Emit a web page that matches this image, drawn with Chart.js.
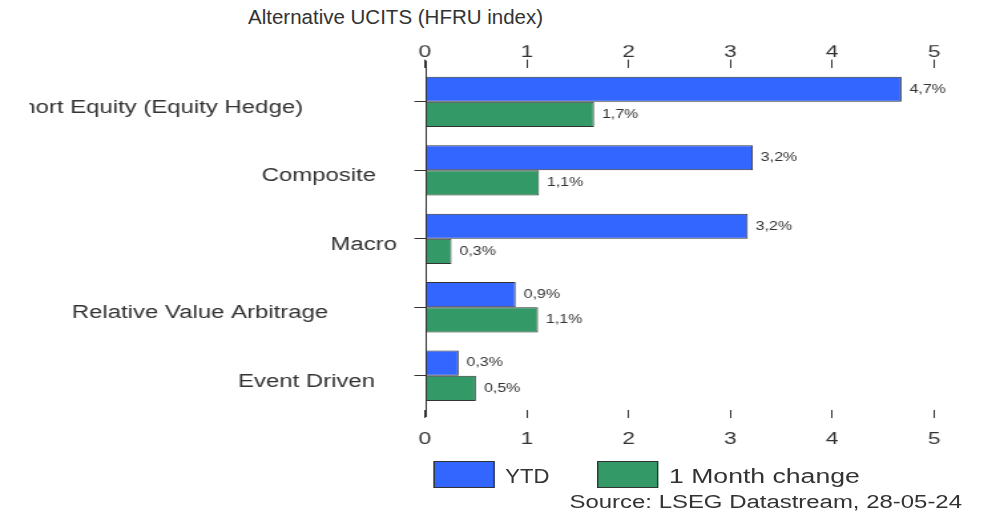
<!DOCTYPE html>
<html>
<head>
<meta charset="utf-8">
<script src="https://cdn.jsdelivr.net/npm/chart.js@4.4.1/dist/chart.umd.min.js"></script>
<style>
  body { margin: 0; background: #fff; font-family: "Liberation Sans", Arial, sans-serif; color: #333; }
  #title { position: absolute; left: 248px; top: 5px; font-size: 20.5px; line-height: 24px; white-space: nowrap; }
  #stretch { position: absolute; left: 0; top: 0; width: 755px; height: 514px; transform: scaleX(1.3298); transform-origin: 0 0; }
  .box { position: absolute; top: 461px; width: 46.6px; height: 27px; box-sizing: border-box; border: 1px solid #333; }
  .lbl { position: absolute; top: 463px; font-size: 20px; line-height: 27px; white-space: nowrap; transform-origin: 0 0; }
  #source { position: absolute; right: 31.6px; top: 492px; font-size: 18px; line-height: 20px; white-space: nowrap; }
</style>
</head>
<body>
<div id="title">Alternative UCITS (HFRU index)</div>
<div id="stretch">
  <canvas id="hfru" width="755" height="514"></canvas>
  <div class="box" style="left:325.6px; background:#3366ff"></div>
  <div class="lbl" style="left:379.7px; transform: scaleX(0.83)">YTD</div>
  <div class="box" style="left:448.9px; background:#339966"></div>
  <div class="lbl" style="left:503.1px">1 Month change</div>
  <div id="source">Source: LSEG Datastream, 28-05-24</div>
</div>
<script>
const categories = [
  'Long/Short Equity (Equity Hedge)',
  'Composite',
  'Macro',
  'Relative Value Arbitrage',
  'Event Driven'
];
const ytd = [4.68, 3.22, 3.17, 0.89, 0.33];
const monthChange = [1.66, 1.12, 0.26, 1.11, 0.5];
const xTicks = [0, 1, 2, 3, 4, 5];

// where each category label ends, measured from the left of the plot
const labelShift = [-91.7, -36.8, -21, -72.9, -37.6];

const font = '"Liberation Sans", Arial, sans-serif';

const extras = {
  id: 'extras',
  afterDraw(chart) {
    const ctx = chart.ctx;
    const area = chart.chartArea;
    const yScale = chart.scales.y;
    const xScale = chart.scales.x;

    // vertical axis line
    const x0 = Math.round(xScale.getPixelForValue(0)) + 0.5;
    ctx.save();
    ctx.strokeStyle = '#333';
    ctx.lineWidth = 1;
    ctx.beginPath();
    ctx.moveTo(x0, area.top - 7);
    ctx.lineTo(x0, area.bottom + 7);
    ctx.stroke();

    // value labels
    ctx.fillStyle = '#333';
    ctx.font = '12px ' + font;
    ctx.textAlign = 'left';
    ctx.textBaseline = 'middle';
    chart.data.datasets.forEach((ds, di) => {
      chart.getDatasetMeta(di).data.forEach((bar, i) => {
        const txt = ds.data[i].toFixed(1).replace('.', ',') + '%';
        ctx.fillText(txt, bar.x + 6, bar.y);
      });
    });

    // category labels
    ctx.beginPath();
    ctx.rect(22, 0, area.left, chart.height);
    ctx.clip();
    ctx.font = '18px ' + font;
    ctx.textAlign = 'right';
    categories.forEach((c, i) => {
      ctx.fillText(c, area.left + labelShift[i], yScale.getPixelForValue(i) + 6);
    });
    ctx.restore();
  }
};

const tickFont = { family: font, size: 17 };
const setTicks = scale => { scale.ticks = xTicks.map(v => ({ value: v })); };

new Chart(document.getElementById('hfru'), {
  type: 'bar',
  data: {
    labels: categories,
    datasets: [
      { label: 'YTD', data: ytd, backgroundColor: '#3366ff', borderColor: '#333', borderWidth: 1 },
      { label: '1 Month change', data: monthChange, backgroundColor: '#339966', borderColor: '#333', borderWidth: 1 }
    ]
  },
  options: {
    indexAxis: 'y',
    responsive: false,
    animation: false,
    layout: { padding: { left: 311.6, right: 52.6, top: 45.2, bottom: 53.6 } },
    datasets: { bar: { barPercentage: 1, categoryPercentage: 0.735 } },
    plugins: {
      legend: { display: false },
      tooltip: { enabled: false }
    },
    scales: {
      y: {
        grid: { drawOnChartArea: false, offset: false, tickLength: 8, color: '#333' },
        border: { display: false },
        ticks: { display: false },
        afterFit(scale) { scale.width = 8; }
      },
      x: {
        position: 'bottom',
        min: 0,
        max: 5,
        afterBuildTicks: setTicks,
        grid: { drawOnChartArea: false, tickLength: 8, color: '#333' },
        border: { display: false },
        ticks: { font: tickFont, color: '#333', padding: 11 }
      },
      x2: {
        type: 'linear',
        axis: 'x',
        position: 'top',
        min: 0,
        max: 5,
        afterBuildTicks: setTicks,
        grid: { drawOnChartArea: false, tickLength: 8, color: '#333' },
        border: { display: false },
        ticks: { font: tickFont, color: '#333', padding: -3 }
      }
    }
  },
  plugins: [extras]
});
</script>
</body>
</html>
